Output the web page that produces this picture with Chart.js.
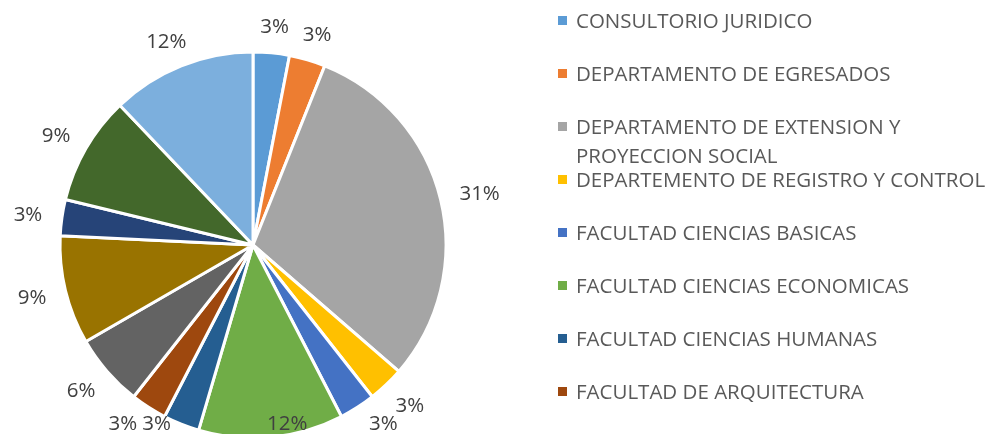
<!DOCTYPE html>
<html>
<head>
<meta charset="utf-8">
<script src="https://cdn.jsdelivr.net/npm/chart.js@4.4.1/dist/chart.umd.min.js"></script>
<style>
  html, body { margin: 0; padding: 0; background: #fff; width: 995px; height: 434px; overflow: hidden; }
  #wrap { position: absolute; left: 0; top: 0; width: 995px; height: 450px; }
  #legend { position: absolute; left: 558px; top: 0; font-family: 'Open Sans', sans-serif; font-size: 20.5px; color: #595959; }
  .item { position: absolute; left: 0; white-space: nowrap; line-height: 29px; }
  .sw { position: absolute; left: 0; top: 10px; width: 9px; height: 9px; }
  .txt { position: absolute; left: 18px; top: 0; }
</style>
</head>
<body>
<div id="wrap"><canvas id="pie"></canvas></div>
<div id="legend"></div>
<script>
// legend shows only the first 8 categories (the rest are cut off in the source)
const categories = [
  'CONSULTORIO JURIDICO',
  'DEPARTAMENTO DE EGRESADOS',
  ['DEPARTAMENTO DE EXTENSION Y', 'PROYECCION SOCIAL'],
  'DEPARTEMENTO DE REGISTRO Y CONTROL',
  'FACULTAD CIENCIAS BASICAS',
  'FACULTAD CIENCIAS ECONOMICAS',
  'FACULTAD CIENCIAS HUMANAS',
  'FACULTAD DE ARQUITECTURA'
];
// slice sizes and the percent labels as printed
const counts = [1, 1, 10, 1, 1, 4, 1, 1, 2, 3, 1, 3, 4];
const pctLabels = [3, 3, 31, 3, 3, 12, 3, 3, 6, 9, 3, 9, 12];
const colors = ['#5B9BD5', '#ED7D31', '#A5A5A5', '#FFC000', '#4472C4', '#70AD47',
                '#255E91', '#9E480E', '#636363', '#997300', '#264478', '#43682B', '#7CAFDD'];

const FONT_SIZE = 20.5;
const MAX_LABEL_Y = 423;

// percent labels placed just outside each slice, kept inside the visible area
const outsideLabels = {
  id: 'outsideLabels',
  afterDatasetsDraw(chart) {
    const ctx = chart.ctx;
    const meta = chart.getDatasetMeta(0);
    const capH = FONT_SIZE * 0.714;
    ctx.save();
    ctx.font = FONT_SIZE + 'px "Open Sans"';
    ctx.fillStyle = '#404040';
    ctx.textAlign = 'center';
    ctx.textBaseline = 'alphabetic';
    meta.data.forEach((arc, i) => {
      const p = arc.getProps(['x', 'y', 'startAngle', 'endAngle', 'outerRadius'], true);
      const mid = (p.startAngle + p.endAngle) / 2;
      const c = Math.cos(mid), s = Math.sin(mid);
      const txt = pctLabels[i] + '%';
      const w = ctx.measureText(txt).width;
      const d = p.outerRadius + 20;
      let lx = p.x + c * (d + w / 2);
      let ly = p.y + s * (d + capH / 2);
      if (ly > MAX_LABEL_Y) {
        // pushed up at the bottom edge -> slide sideways a bit
        lx += Math.sign(c) * Math.min(ly - MAX_LABEL_Y, 12);
        ly = MAX_LABEL_Y;
      }
      ctx.fillText(txt, lx, ly + capH / 2);
    });
    ctx.restore();
  }
};

new Chart(document.getElementById('pie'), {
  type: 'pie',
  data: {
    labels: categories,
    datasets: [{
      data: counts,
      backgroundColor: colors,
      borderColor: '#ffffff',
      borderWidth: 3
    }]
  },
  options: {
    responsive: true,
    maintainAspectRatio: false,
    animation: false,
    radius: 193,
    layout: { padding: { left: 53, top: 45, right: 542, bottom: 5 } },
    plugins: { legend: { display: false }, tooltip: { enabled: false } }
  },
  plugins: [outsideLabels]
});

// html legend, fixed row pitch like the original
const legend = document.getElementById('legend');
categories.forEach((name, i) => {
  const item = document.createElement('div');
  item.className = 'item';
  item.style.top = (20 + 53 * i - 14.5) + 'px';
  const sw = document.createElement('span');
  sw.className = 'sw';
  sw.style.background = colors[i];
  const txt = document.createElement('span');
  txt.className = 'txt';
  txt.innerHTML = Array.isArray(name) ? name.join('<br>') : name;
  item.appendChild(sw);
  item.appendChild(txt);
  legend.appendChild(item);
});
</script>
</body>
</html>
